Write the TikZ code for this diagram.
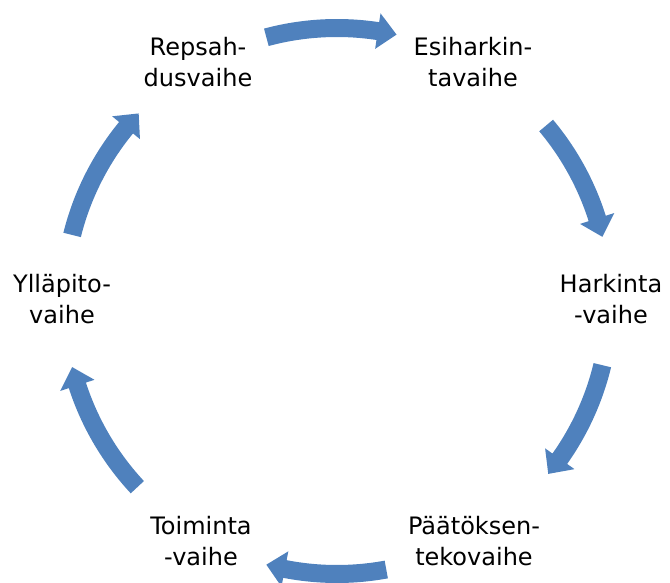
\documentclass[tikz,border=0pt]{standalone}
\usepackage{fontspec}
\setmainfont{DejaVu Sans}
\begin{document}
\begin{tikzpicture}[x=1pt,y=1pt,
  stage/.style={align=center,font=\fontsize{24}{31}\selectfont,inner sep=0pt},
  cyclearrow/.style={fill={rgb,255:red,79;green,129;blue,189}}]
\useasboundingbox (0,0) rectangle (670,582);
\coordinate (c) at (337,281);
\newcommand\cycarrow[2]{%
  \pgfmathsetmacro\aA{#1}%
  \pgfmathsetmacro\aB{#2+4}%
  \pgfmathsetmacro\aC{#2}%
  \fill[cyclearrow] ([shift={(\aA:282pt)}]c) arc[start angle=\aA, end angle=\aB, radius=282pt]
    -- ([shift={(\aB:291pt)}]c) -- ([shift={(\aC:273pt)}]c) -- ([shift={(\aB:255pt)}]c)
    -- ([shift={(\aB:264pt)}]c) arc[start angle=\aB, end angle=\aA, radius=264pt] -- cycle;}
\cycarrow{105}{77.4}
\cycarrow{40}{13.6}
\cycarrow{-13.6}{-39.3}
\cycarrow{-79.6}{-105}
\cycarrow{-137}{-166}
\cycarrow{166}{136.6}
\node[stage] (rep) at (198,520) {Repsah-\\dusvaihe};
\node[stage] (esi) at (473,520) {Esiharkin-\\tavaihe};
\node[stage] (har) at (611,283) {Harkinta\\-vaihe};
\node[stage] (paa) at (474,41) {Päätöksen-\\tekovaihe};
\node[stage] (toi) at (201,41) {Toiminta\\-vaihe};
\node[stage] (yll) at (62,283) {Ylläpito-\\vaihe};
\end{tikzpicture}
\end{document}
